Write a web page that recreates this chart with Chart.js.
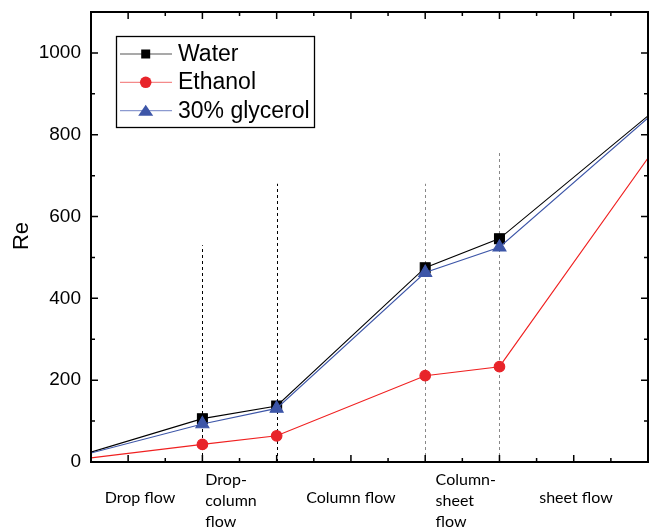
<!DOCTYPE html>
<html>
<head>
<meta charset="utf-8">
<script src="https://cdn.jsdelivr.net/npm/chart.js@4"></script>
<style>
html,body{margin:0;padding:0;background:#fff;}
#wrap{width:649px;height:529px;position:relative;}
</style>
</head>
<body>
<div id="wrap"><canvas id="c" width="649" height="529"></canvas></div>
<script>
// ---- data ----
const xPositions = [0.5, 2, 3, 5, 6, 8];
const water = [24, 106, 137, 475, 546, 846];
const ethanol = [10, 43, 64, 211, 233, 743];
const glycerol = [22, 93, 131, 463, 525, 841];
const seriesNames = ["Water", "Ethanol", "30% glycerol"];
const dividerX = [2, 3, 5, 6];
const dividerTop = [530, 680, 680, 756];
const dividerColors = ["#000000", "#000000", "#888888", "#888888"];
const yTicks = [0, 200, 400, 600, 800, 1000];
const regionLabels = [["Drop flow"], ["Drop-", "column", "flow"], ["Column flow"], ["Column-", "sheet", "flow"], ["sheet flow"]];
const regionX = [1.16, 2.04, 4.0, 5.14, 7.03];
const yTitle = "Re";

const pts = arr => xPositions.map((x, i) => ({x: x, y: arr[i]}));
const edgeRadius = r => ctx => (ctx.dataIndex === 0 || ctx.dataIndex === xPositions.length - 1) ? 0 : r;

function drawLegendMarker(ctx, style, cx, cy) {
  ctx.beginPath();
  if (style === 'rect') {
    ctx.rect(cx - 4.5, cy - 4.5, 9, 9);
  } else if (style === 'circle') {
    ctx.arc(cx, cy, 5.8, 0, Math.PI * 2);
  } else {
    ctx.moveTo(cx, cy - 6);
    ctx.lineTo(cx + 7.5, cy + 5);
    ctx.lineTo(cx - 7.5, cy + 5);
    ctx.closePath();
  }
  ctx.fill();
}

const decor = {
  id: 'decor',
  beforeDatasetsDraw(chart) {
    const {ctx, scales: {x, y}} = chart;
    ctx.save();
    ctx.lineWidth = 1;
    ctx.setLineDash([3, 3]);
    dividerX.forEach((dx, i) => {
      const px = Math.round(x.getPixelForValue(dx)) + 0.5;
      ctx.strokeStyle = dividerColors[i];
      ctx.beginPath();
      ctx.moveTo(px, y.getPixelForValue(0));
      ctx.lineTo(px, y.getPixelForValue(dividerTop[i]));
      ctx.stroke();
    });
    ctx.restore();
  },
  afterDraw(chart) {
    const {ctx, chartArea: a, scales: {x, y}} = chart;
    ctx.save();
    // frame
    ctx.strokeStyle = '#000';
    ctx.lineWidth = 2;
    ctx.strokeRect(a.left, a.top, a.right - a.left, a.bottom - a.top);
    ctx.lineWidth = 1.5;
    for (let v = 0; v <= 1100; v += 100) {
      const py = y.getPixelForValue(v);
      const len = (v % 200 === 0) ? 7 : 4;
      ctx.beginPath();
      ctx.moveTo(a.left, py); ctx.lineTo(a.left + len, py);
      ctx.moveTo(a.right, py); ctx.lineTo(a.right - len, py);
      ctx.stroke();
    }
    for (let v = 1; v <= 8; v += 0.5) {
      const px = x.getPixelForValue(v);
      const len = (v % 1 === 0) ? 7 : 4;
      ctx.beginPath();
      ctx.moveTo(px, a.bottom); ctx.lineTo(px, a.bottom - len);
      ctx.moveTo(px, a.top); ctx.lineTo(px, a.top + len);
      ctx.stroke();
    }
    // y title
    ctx.save();
    ctx.translate(22, 236);
    ctx.rotate(-Math.PI / 2);
    ctx.fillStyle = '#000';
    ctx.font = '22px "Liberation Sans", Arial, sans-serif';
    ctx.textAlign = 'center';
    ctx.textBaseline = 'middle';
    ctx.fillText(yTitle, 0, 0);
    ctx.restore();
    // region labels
    ctx.fillStyle = '#000';
    ctx.font = '16px Lato, "Open Sans", sans-serif';
    ctx.textBaseline = 'middle';
    regionLabels.forEach((lines, i) => {
      const px = x.getPixelForValue(regionX[i]);
      if (lines.length === 1) {
        ctx.textAlign = 'center';
        ctx.fillText(lines[0], px, 498);
      } else {
        ctx.textAlign = 'left';
        lines.forEach((t, j) => ctx.fillText(t, px, 480 + j * 21));
      }
    });
    // legend
    const lx = 116.5, ly = 36.5, lw = 198, lh = 91;
    ctx.fillStyle = '#fff';
    ctx.fillRect(lx, ly, lw, lh);
    ctx.strokeStyle = '#000';
    ctx.lineWidth = 1.3;
    ctx.strokeRect(lx, ly, lw, lh);
    const rowsY = [54, 82.3, 110.7];
    chart.data.datasets.forEach((ds, i) => {
      const yy = rowsY[i];
      ctx.strokeStyle = ds.legendLine;
      ctx.lineWidth = 1.2;
      ctx.beginPath();
      ctx.moveTo(120, yy); ctx.lineTo(172, yy);
      ctx.stroke();
      ctx.fillStyle = ds.pointBackgroundColor;
      drawLegendMarker(ctx, ds.pointStyle, 145.7, yy);
      ctx.fillStyle = '#000';
      ctx.font = '23px "Liberation Sans", Arial, sans-serif';
      ctx.textAlign = 'left';
      ctx.textBaseline = 'middle';
      ctx.fillText(ds.label, 178, yy + 0.5);
    });
    ctx.restore();
  }
};

new Chart(document.getElementById('c'), {
  type: 'line',
  data: {
    datasets: [
      {label: seriesNames[0], data: pts(water), borderColor: '#000000', pointBackgroundColor: '#000000', pointBorderColor: '#000000',
       legendLine: '#555555', pointStyle: 'rect', pointRadius: edgeRadius(7), borderWidth: 1.1, order: 2},
      {label: seriesNames[1], data: pts(ethanol), borderColor: '#f02020', pointBackgroundColor: '#e8242a', pointBorderColor: '#e8242a',
       legendLine: '#f48a8a', pointStyle: 'circle', pointRadius: edgeRadius(5.3), borderWidth: 1.1, order: 1},
      {label: seriesNames[2], data: pts(glycerol), borderColor: '#3d56a8', pointBackgroundColor: '#3d56a8', pointBorderColor: '#3d56a8',
       legendLine: '#8c9ad0', pointStyle: 'triangle', pointRadius: edgeRadius(7.5), borderWidth: 1.1, order: 0}
    ]
  },
  options: {
    responsive: false,
    animation: false,
    devicePixelRatio: 1,
    layout: {padding: {left: 0, top: 12, right: 1, bottom: 67}},
    plugins: {legend: {display: false}, tooltip: {enabled: false}},
    elements: {line: {tension: 0}, point: {borderWidth: 1, hoverRadius: 0}},
    scales: {
      x: {type: 'linear', min: 0.5, max: 8, display: false},
      y: {
        min: 0, max: 1100,
        grid: {display: false, drawTicks: false},
        border: {display: false},
        afterBuildTicks: s => { s.ticks = yTicks.map(v => ({value: v})); },
        afterFit: s => { s.width = 91; s.paddingTop = 0; s.paddingBottom = 0; },
        ticks: {
          color: '#000', padding: 10,
          font: {family: '"Liberation Sans", Arial, sans-serif', size: 19},
          callback: v => String(v)
        }
      }
    }
  },
  plugins: [decor]
});
</script>
</body>
</html>
